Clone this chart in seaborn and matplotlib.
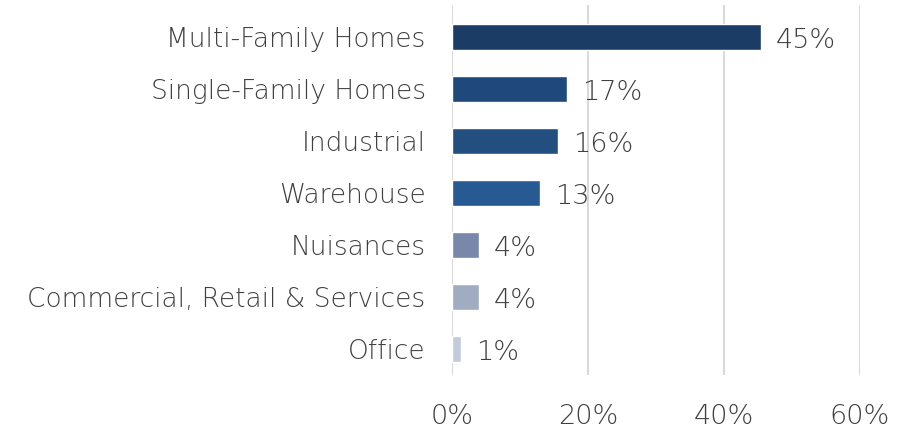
import matplotlib
matplotlib.use("Agg")
import matplotlib.pyplot as plt
import seaborn as sns
import pandas as pd

categories = ["Multi-Family Homes", "Single-Family Homes", "Industrial", "Warehouse",
              "Nuisances", "Commercial, Retail & Services", "Office"]
values = [45.4, 16.9, 15.6, 12.9, 4.0, 4.0, 1.3]
labels = ["45%", "17%", "16%", "13%", "4%", "4%", "1%"]
colors = ["#1B3C65", "#1F497C", "#224F80", "#275A93", "#7788AA", "#A0ACC2", "#C3CBDA"]

sns.set_style("white")
plt.rcParams['font.family'] = ['DejaVu Sans']
plt.rcParams['font.weight'] = 'light'

data = pd.DataFrame({"cat": categories, "val": values})

fig = plt.figure(figsize=(9.17, 4.33), dpi=100)
ax = fig.add_axes([0.4929, 0.134, 0.4449, 0.854])

sns.barplot(data=data, x="val", y="cat", hue="cat", palette=colors, legend=False,
            width=0.5, ax=ax, saturation=1)

for i, (v, t) in enumerate(zip(values, labels)):
    ax.text(v + 2.2, i + 0.06, t, va="center", ha="left", fontsize=19.5, color="#404040")

ax.set_xlim(0, 60)
ax.set_ylim(6.5, -0.62)
ax.set_xticks([0, 20, 40, 60])
ax.set_xticklabels(["0%", "20%", "40%", "60%"])
ax.xaxis.grid(True, color="#D9D9D9", linewidth=1.5)
ax.set_axisbelow(True)
for s in ax.spines.values():
    s.set_visible(False)
ax.tick_params(axis="x", length=0, pad=21, labelsize=19.5, labelcolor="#404040")
ax.tick_params(axis="y", length=0, pad=19, labelsize=19, labelcolor="#404040")
ax.set_xlabel("")
ax.set_ylabel("")

fig.savefig("out.png", dpi=100)
